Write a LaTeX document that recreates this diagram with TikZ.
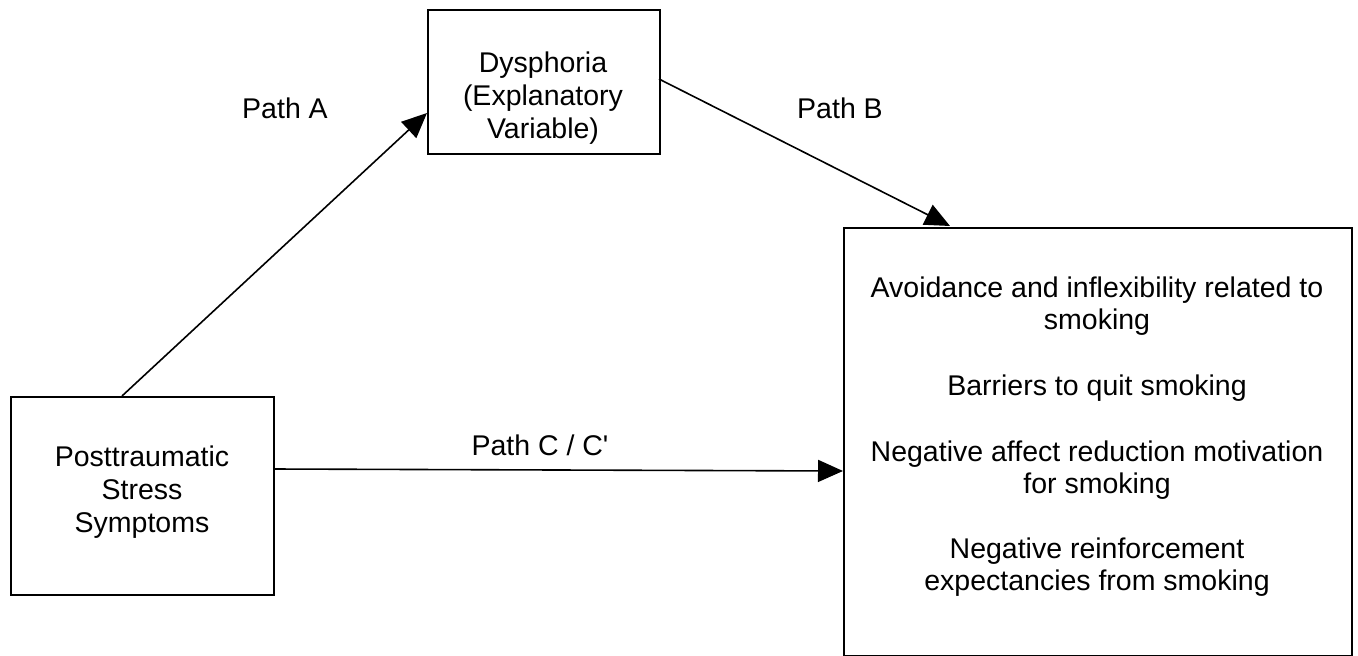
\documentclass[tikz,border=0pt]{standalone}
\usepackage{fontspec}
\setmainfont{Liberation Sans}
\usetikzlibrary{arrows.meta}
\begin{document}
\begin{tikzpicture}[x=1pt,y=-1pt,
  box/.style={draw=black,line width=1.8pt,inner sep=0pt,anchor=north west},
  txt/.style={align=center,inner sep=0pt,font=\fontsize{28.5}{33}\selectfont},
  txtr/.style={align=center,inner sep=0pt,font=\fontsize{28.5}{31.5}\selectfont},
  conn/.style={line width=1.6pt,-{Triangle[length=25pt,width=22pt]}}]
\useasboundingbox (0,0) rectangle (1358,656);
% boxes
\node[box,minimum width=232pt,minimum height=144pt] (dys) at (427,9) {};
\node[box,minimum width=263pt,minimum height=198pt] (pts) at (10,396) {};
\node[box,minimum width=508pt,minimum height=428pt] (out) at (843,227) {};
% texts
\node[txt] (dyst) at (543,98) {Dysphoria\\(Explanatory\\Variable)};
\node[txt] (ptst) at (142,492) {Posttraumatic\\Stress\\Symptoms};
\node[txtr] (o1) at (1097,306) {Avoidance and inflexibility related to\\smoking};
\node[txtr] (o2) at (1097,388) {Barriers to quit smoking};
\node[txtr] (o3) at (1097,470) {Negative affect reduction motivation\\for smoking};
\node[txtr] (o4) at (1097,567) {Negative reinforcement\\expectancies from smoking};
\node[txt] (la) at (285,108) {Path A};
\node[txt] (lb) at (840,108) {Path B};
\node[txt] (lc) at (540,445) {Path C / C\textquotesingle};
% connector ends
\coordinate (aS) at (122,396);
\coordinate (aE) at (427,113);
\coordinate (bS) at (659,79);
\coordinate (bE) at (950,226);
\coordinate (cS) at (273,469);
\coordinate (cE) at (843,471);
\draw[conn] (aS) -- (aE);
\draw[conn] (bS) -- (bE);
\draw[conn] (cS) -- (cE);
\end{tikzpicture}
\end{document}
